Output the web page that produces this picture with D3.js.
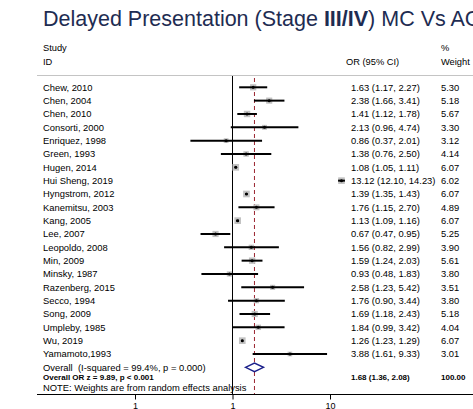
<!DOCTYPE html>
<html>
<head>
<meta charset="utf-8">
<script src="https://cdnjs.cloudflare.com/ajax/libs/d3/7.8.5/d3.min.js"></script>
<style>
  body { margin: 0; background: #ffffff; }
  svg { display: block; }
</style>
</head>
<body>
<div id="forest"></div>
<script>
var studies = ["Chew, 2010", "Chen, 2004", "Chen, 2010", "Consorti, 2000", "Enriquez, 1998",
    "Green, 1993", "Hugen, 2014", "Hui Sheng, 2019", "Hyngstrom, 2012", "Kanemitsu, 2003",
    "Kang, 2005", "Lee, 2007", "Leopoldo, 2008", "Min, 2009", "Minsky, 1987",
    "Razenberg, 2015", "Secco, 1994", "Song, 2009", "Umpleby, 1985", "Wu, 2019", "Yamamoto,1993"];
var oddsRatio = [1.63, 2.38, 1.41, 2.13, 0.86, 1.38, 1.08, 13.12, 1.39, 1.76, 1.13, 0.67, 1.56, 1.59, 0.93, 2.58, 1.76, 1.69, 1.84, 1.26, 3.88];
var lower = [1.17, 1.66, 1.12, 0.96, 0.37, 0.76, 1.05, 12.10, 1.35, 1.15, 1.09, 0.47, 0.82, 1.24, 0.48, 1.23, 0.90, 1.18, 0.99, 1.23, 1.61];
var upper = [2.27, 3.41, 1.78, 4.74, 2.01, 2.50, 1.11, 14.23, 1.43, 2.70, 1.16, 0.95, 2.99, 2.03, 1.83, 5.42, 3.44, 2.43, 3.42, 1.29, 9.33];
var weights = [5.30, 5.18, 5.67, 3.30, 3.12, 4.14, 6.07, 6.02, 6.07, 4.89, 6.07, 5.25, 3.90, 5.61, 3.80, 3.51, 3.80, 5.18, 4.04, 6.07, 3.01];

var overall = {or: 1.68, lo: 1.36, hi: 2.08, weight: 100.00};
var tickValues = [0.1, 1, 10];
var tickLabels = ["1", "1", "10"];

var width = 473;
var height = 409;
var font = "Liberation Sans, Arial, Helvetica, sans-serif";

var svg = d3.select("#forest").append("svg")
    .attr("width", width)
    .attr("height", height)
    .style("font-family", font);

var x = d3.scaleLog().domain([0.1, 10]).range([135, 330]);
var y = d3.scaleLinear().domain([0, studies.length - 1]).range([87.3, 354]);
var fmt = d3.format(".2f");

// title
var title = svg.append("text")
    .attr("x", 43)
    .attr("y", 26)
    .attr("font-size", 21.5)
    .attr("fill", "#1e2c52");
title.append("tspan").text("Delayed Presentation (Stage ");
title.append("tspan").attr("font-weight", "bold").text("III/IV");
title.append("tspan").text(") MC Vs AC");

// column headers
svg.append("text").attr("x", 43).attr("y", 50.5).attr("font-size", 9.3).text("Study");
svg.append("text").attr("x", 43).attr("y", 64.5).attr("font-size", 9.3).text("ID");
svg.append("text").attr("x", 346).attr("y", 64.5).attr("font-size", 9.3).text("OR (95% CI)");
svg.append("text").attr("x", 441).attr("y", 50.5).attr("font-size", 9.3).text("%");
svg.append("text").attr("x", 441).attr("y", 64.5).attr("font-size", 9.3).text("Weight");

svg.append("line")
    .attr("x1", 37).attr("x2", width)
    .attr("y1", 75.5).attr("y2", 75.5)
    .attr("stroke", "#c4c4c4")
    .attr("stroke-width", 1);

// null line and overall line
svg.append("line")
    .attr("x1", x(1)).attr("x2", x(1))
    .attr("y1", 76).attr("y2", 394)
    .attr("stroke", "#000")
    .attr("stroke-width", 1);

svg.append("line")
    .attr("x1", x(overall.or)).attr("x2", x(overall.or))
    .attr("y1", 78).attr("y2", 394)
    .attr("stroke", "#9a2430")
    .attr("stroke-width", 1)
    .attr("stroke-dasharray", "4,3");

var rows = svg.append("g").selectAll("g")
    .data(studies)
    .enter().append("g");

// boxes (area proportional to weight)
rows.append("rect")
    .attr("x", function(d, i) { return x(oddsRatio[i]) - 1.35 * Math.sqrt(weights[i]); })
    .attr("y", function(d, i) { return y(i) - 1.35 * Math.sqrt(weights[i]); })
    .attr("width", function(d, i) { return 2.7 * Math.sqrt(weights[i]); })
    .attr("height", function(d, i) { return 2.7 * Math.sqrt(weights[i]); })
    .attr("fill", "#c2c2c2");

rows.append("line")
    .attr("x1", function(d, i) { return x(lower[i]); })
    .attr("x2", function(d, i) { return x(upper[i]); })
    .attr("y1", function(d, i) { return y(i); })
    .attr("y2", function(d, i) { return y(i); })
    .attr("stroke", "#000")
    .attr("stroke-width", 2);

rows.append("circle")
    .attr("cx", function(d, i) { return x(oddsRatio[i]); })
    .attr("cy", function(d, i) { return y(i); })
    .attr("r", 1.5)
    .attr("fill", "#000");

rows.append("text")
    .attr("x", 43)
    .attr("y", function(d, i) { return y(i); })
    .attr("dy", "0.35em")
    .attr("font-size", 9.4)
    .text(function(d) { return d; });

rows.append("text")
    .attr("x", 351)
    .attr("y", function(d, i) { return y(i); })
    .attr("dy", "0.35em")
    .attr("font-size", 9.4)
    .text(function(d, i) { return fmt(oddsRatio[i]) + " (" + fmt(lower[i]) + ", " + fmt(upper[i]) + ")"; });

rows.append("text")
    .attr("x", 441)
    .attr("y", function(d, i) { return y(i); })
    .attr("dy", "0.35em")
    .attr("font-size", 9.4)
    .text(function(d, i) { return fmt(weights[i]); });

// overall diamond
var yo = y(studies.length);
svg.append("path")
    .attr("d", "M" + x(overall.lo) + "," + yo +
        "L" + x(overall.or) + "," + (yo - 4.3) +
        "L" + x(overall.hi) + "," + yo +
        "L" + x(overall.or) + "," + (yo + 4.3) + "Z")
    .attr("fill", "#fff")
    .attr("stroke", "#1a1f8a")
    .attr("stroke-width", 1.4);

svg.append("text")
    .attr("x", 43).attr("y", yo).attr("dy", "0.35em")
    .attr("font-size", 9.4)
    .style("white-space", "pre")
    .text("Overall  (I-squared = 99.4%, p = 0.000)");

svg.append("text")
    .attr("x", 43).attr("y", 377.3).attr("dy", "0.35em")
    .attr("font-size", 8)
    .attr("font-weight", "bold")
    .text("Overall OR z = 9.89, p < 0.001");

svg.append("text")
    .attr("x", 351).attr("y", 377.3).attr("dy", "0.35em")
    .attr("font-size", 8)
    .attr("font-weight", "bold")
    .text(fmt(overall.or) + " (" + fmt(overall.lo) + ", " + fmt(overall.hi) + ")");

svg.append("text")
    .attr("x", 441).attr("y", 377.3).attr("dy", "0.35em")
    .attr("font-size", 8)
    .attr("font-weight", "bold")
    .text(fmt(overall.weight));

svg.append("text")
    .attr("x", 43).attr("y", 387.5).attr("dy", "0.35em")
    .attr("font-size", 9.4)
    .text("NOTE: Weights are from random effects analysis");

// x axis
svg.append("line")
    .attr("x1", 37).attr("x2", width)
    .attr("y1", 394.5).attr("y2", 394.5)
    .attr("stroke", "#000");

var axis = svg.append("g")
    .attr("transform", "translate(0,394.5)")
    .call(d3.axisBottom(x)
        .tickValues(tickValues)
        .tickFormat(function(d, i) { return tickLabels[i]; })
        .tickSize(5)
        .tickPadding(3));
axis.select(".domain").remove();
axis.selectAll("text").attr("font-size", 9).attr("font-family", font).attr("fill", "#000");
axis.selectAll("line").attr("stroke", "#000");
</script>
</body>
</html>
